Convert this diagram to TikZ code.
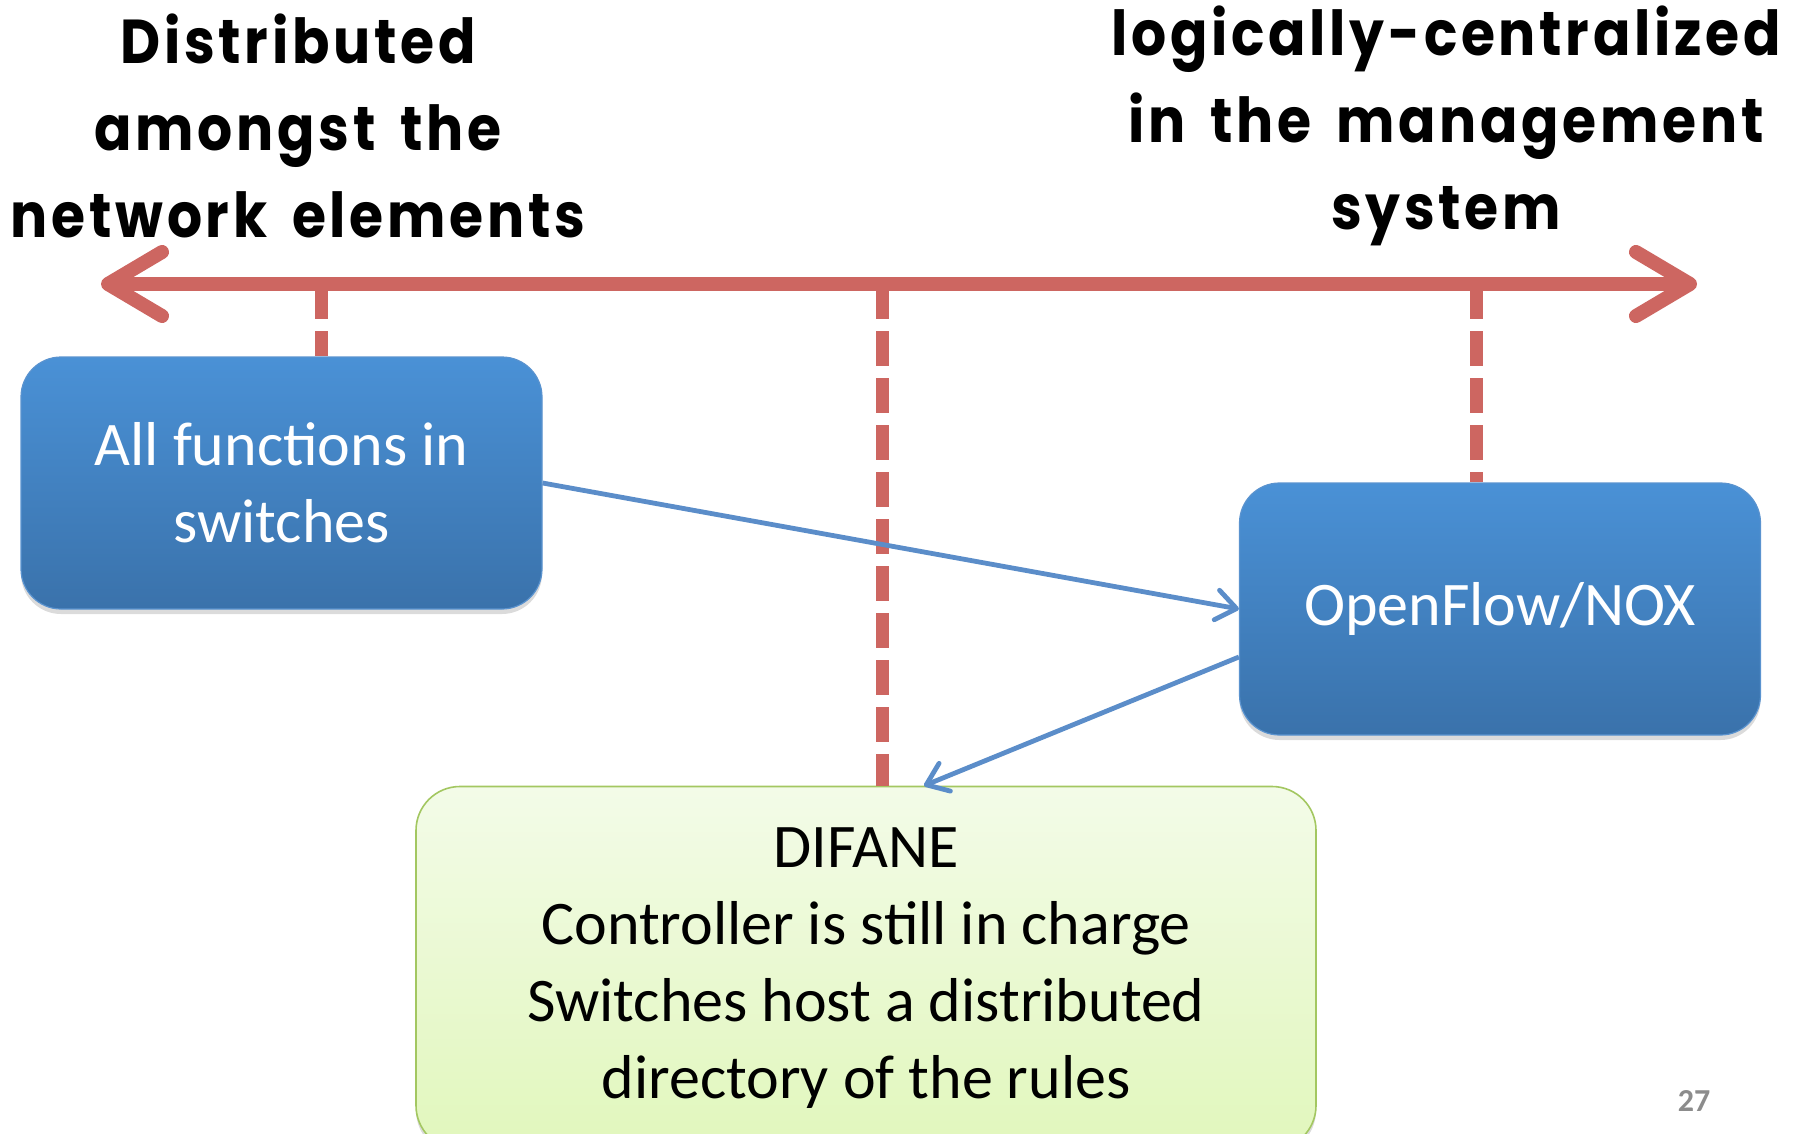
\documentclass[tikz,border=0pt]{standalone}
\usepackage{fontspec}
\setmainfont{Carlito}
\newfontfamily\handfont{Poppins}[LetterSpace=6,WordSpace=1.6,FakeStretch=0.89]
\usetikzlibrary{arrows.meta,shadows}

\definecolor{axisred}{HTML}{CD6661}
\definecolor{boxtop}{HTML}{4A91D6}
\definecolor{boxbot}{HTML}{3A72AB}
\definecolor{boxline}{HTML}{5A93CF}
\definecolor{linkblue}{HTML}{5B8DC9}
\definecolor{greentop}{HTML}{F3FBE8}
\definecolor{greenbot}{HTML}{E1F7BC}
\definecolor{greenline}{HTML}{A3C761}
\definecolor{pagenum}{HTML}{8C8C8C}

\tikzset{
  heading/.style={font=\handfont\bfseries\fontsize{31}{43.5}\selectfont, align=center, inner sep=0pt},
  bluebox/.style={rounded corners=20pt, draw=boxline, line width=0.6pt,
    top color=boxtop, bottom color=boxbot, text=white,
    minimum width=260.5pt, minimum height=126pt, inner sep=0pt, align=center,
    font=\fontsize{31}{38.5}\selectfont,
    drop shadow={shadow xshift=0pt, shadow yshift=-2.5pt, opacity=0.2, fill=black!70}},
  greenbox/.style={rounded corners=22pt, draw=greenline, line width=0.8pt,
    top color=greentop, bottom color=greenbot, text=black,
    minimum width=450pt, minimum height=181.5pt, inner sep=0pt, align=center,
    font=\fontsize{31}{38.5}\selectfont,
    drop shadow={shadow xshift=0pt, shadow yshift=-2.5pt, opacity=0.2, fill=black!70}},
  axisline/.style={draw=axisred, line width=7pt,
    arrows={Straight Barb[length=27pt, width=32pt, round]-Straight Barb[length=27pt, width=32pt, round]}},
  tickline/.style={draw=axisred, line width=6.5pt, dash pattern=on 17.5pt off 6pt},
  link/.style={draw=linkblue, line width=2.4pt,
    -{Straight Barb[length=10pt, width=15pt, round]}},
}

\begin{document}
\begin{tikzpicture}[x=0.5pt, y=-0.5pt]
  \useasboundingbox (0,0) rectangle (1798,1134);
  \clip (0,0) rectangle (1798,1134);

  % headings at both ends of the scale
  \node[heading] (left) at (298,126) {Distributed\\amongst the\\network elements};
  \node[heading] (right) at (1446,126) {logically-centralized\\in the management\\system};

  % the three design points
  \node[bluebox] (sw) at (281.5,483) {All functions in\\switches};
  \node[bluebox] (nox) at (1500,609) {OpenFlow/NOX};
  \node[greenbox] (difane) at (866,968) {DIFANE\\Controller is still in charge\\Switches host a distributed\\directory of the rules};

  % the scale itself
  \coordinate (axL) at (101,284);
  \coordinate (axR) at (1697,284);
  \draw[axisline] (axL) -- (axR);

  % ticks hanging from the scale
  \coordinate (tsw) at ([xshift=20pt]sw.north);
  \coordinate (tdif) at ([xshift=8pt]difane.north);
  \coordinate (tnox) at ([xshift=-12pt]nox.north);
  \draw[tickline] (tsw |- axL) -- (tsw);
  \draw[tickline] (tdif |- axL) -- (tdif);
  \draw[tickline] (tnox |- axL) -- (tnox);

  % links between the design points
  \draw[link] (sw.east) -- (nox.west);
  \coordinate (noxout) at ([yshift=-24pt]nox.west);
  \coordinate (difin) at ([xshift=29pt]difane.north);
  \draw[link] (noxout) -- (difin);

  % slide number
  \node[text=pagenum, font=\bfseries\fontsize{16}{19}\selectfont] (num) at (1694,1101) {27};
\end{tikzpicture}
\end{document}
